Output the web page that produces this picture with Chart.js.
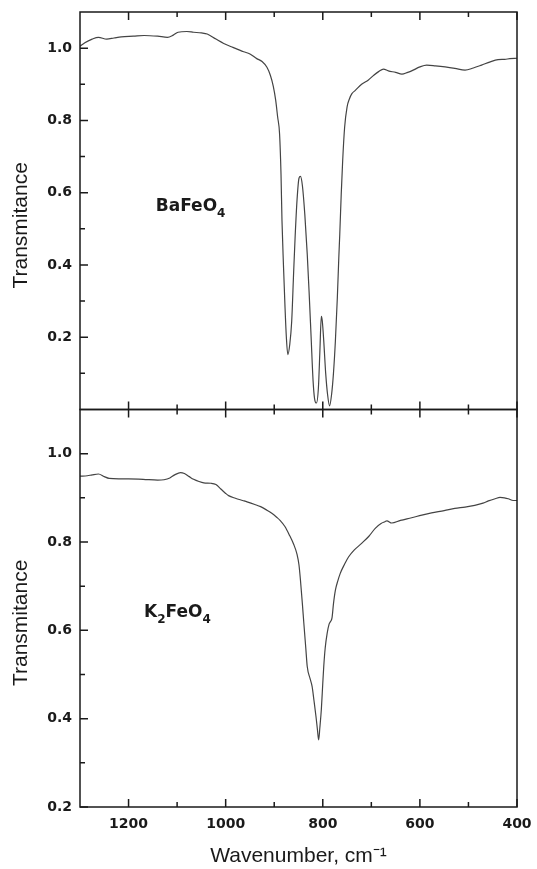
<!DOCTYPE html>
<html>
<head>
<meta charset="utf-8">
<title>FTIR BaFeO4 / K2FeO4</title>
<script src="https://cdn.jsdelivr.net/npm/chart.js@4.4.1/dist/chart.umd.min.js"></script>
<style>
    html, body { margin: 0; padding: 0; background: #fff; }
    canvas { display: block; }
</style>
</head>
<body>
<canvas id="irChart" width="537" height="869"></canvas>
<script>

// BaFeO4 spectrum (top panel)
const baWave = [1300, 1290, 1275, 1262, 1245, 1230, 1215, 1190, 1168, 1140, 1120, 1108, 1098, 1080, 1066, 1050, 1038, 1020, 1004, 985, 963, 950, 936, 925, 915, 908, 902, 897, 893, 889, 886, 884, 881, 878, 875, 872, 868, 864, 860, 857, 853, 849, 846, 842, 837, 832, 828, 824, 820, 817, 813, 809, 806, 803, 801, 798, 794, 790, 786, 782, 778, 774, 770, 767, 765, 762, 759, 755, 750, 745, 740, 733, 720, 706, 695, 685, 675, 665, 650, 637, 625, 617, 600, 586, 568, 548, 528, 507, 490, 473, 455, 439, 425, 415, 400];
const baT = [1.005, 1.015, 1.025, 1.030, 1.025, 1.028, 1.031, 1.033, 1.035, 1.033, 1.030, 1.036, 1.044, 1.046, 1.044, 1.042, 1.039, 1.025, 1.013, 1.002, 0.990, 0.984, 0.971, 0.963, 0.947, 0.925, 0.895, 0.856, 0.81, 0.763, 0.65, 0.522, 0.40, 0.291, 0.20, 0.152, 0.18, 0.244, 0.38, 0.476, 0.58, 0.640, 0.645, 0.62, 0.54, 0.430, 0.32, 0.20, 0.08, 0.031, 0.018, 0.06, 0.16, 0.258, 0.245, 0.19, 0.10, 0.04, 0.010, 0.04, 0.10, 0.19, 0.31, 0.42, 0.485, 0.596, 0.689, 0.781, 0.837, 0.860, 0.874, 0.883, 0.900, 0.912, 0.925, 0.935, 0.942, 0.937, 0.933, 0.928, 0.933, 0.937, 0.948, 0.953, 0.951, 0.948, 0.944, 0.939, 0.945, 0.953, 0.962, 0.968, 0.969, 0.971, 0.972];

// K2FeO4 spectrum (bottom panel)
const kWave = [1300, 1285, 1275, 1262, 1250, 1240, 1220, 1200, 1170, 1140, 1127, 1115, 1105, 1093, 1085, 1075, 1066, 1055, 1045, 1030, 1020, 1010, 1000, 994, 980, 965, 956, 940, 928, 915, 905, 895, 888, 878, 868, 860, 853, 849, 846, 842, 839, 835, 832, 826, 822, 818, 814, 811, 808.5, 806, 803, 800, 798, 795, 791, 787, 784, 781, 778, 774, 769, 764, 755, 747, 735, 720, 705, 692, 680, 672, 668, 658, 640, 617, 596, 576, 550, 528, 507, 487, 470, 459, 445, 435, 426, 418, 408, 400];
const kT = [0.949, 0.950, 0.952, 0.954, 0.948, 0.944, 0.943, 0.943, 0.942, 0.940, 0.941, 0.945, 0.952, 0.957, 0.955, 0.948, 0.942, 0.937, 0.934, 0.933, 0.930, 0.920, 0.910, 0.905, 0.899, 0.894, 0.891, 0.885, 0.880, 0.872, 0.865, 0.856, 0.849, 0.835, 0.814, 0.795, 0.772, 0.748, 0.714, 0.66, 0.616, 0.56, 0.518, 0.49, 0.473, 0.44, 0.405, 0.375, 0.352, 0.38, 0.42, 0.48, 0.518, 0.56, 0.593, 0.614, 0.620, 0.628, 0.66, 0.691, 0.712, 0.729, 0.750, 0.766, 0.782, 0.797, 0.813, 0.831, 0.842, 0.846, 0.848, 0.843, 0.849, 0.855, 0.861, 0.866, 0.871, 0.876, 0.879, 0.883, 0.888, 0.893, 0.898, 0.901, 0.900, 0.898, 0.894, 0.894];

// axis ticks
const xTicks = [1200, 1000, 800, 600, 400];
const xMinor = [1100, 900, 700, 500];
const yTicks = [0.2, 0.4, 0.6, 0.8, 1.0];
const yMinorTop = [0.1, 0.3, 0.5, 0.7, 0.9];
const yMinorBot = [0.3, 0.5, 0.7, 0.9];

// panel labels, [text, isSubscript]
const baLabel = [["BaFeO", false], ["4", true]];
const kLabel = [["K", false], ["2", true], ["FeO", false], ["4", true]];

const ink = "#1a1a1a";
const tickFont = { family: "'DejaVu Sans', sans-serif", size: 14, weight: "bold" };
const titleFont = { family: "'Liberation Sans', Arial, sans-serif", size: 21 };


function toPoints(xs, ys) {
    return xs.map((w, i) => ({ x: w, y: ys[i] }));
}

function yAxis(min, max) {
    return {
        type: "linear",
        position: "left",
        stack: "ir",
        stackWeight: 1,
        min: min,
        max: max,
        afterBuildTicks: s => { s.ticks = yTicks.map(v => ({ value: v })); },
        afterFit: s => {
            s.width = 80;
            s.paddingTop = 0;
            s.paddingBottom = 0;
        },
        grid: { display: false, drawTicks: false },
        border: { display: false },
        ticks: {
            font: tickFont,
            color: ink,
            padding: 8,
            callback: v => v.toFixed(1)
        },
        title: {
            display: true,
            text: "Transmitance     ",
            font: titleFont,
            color: ink,
            padding: { top: 9, bottom: 0 }
        }
    };
}


// frame, inward ticks and formula labels
const panelDecor = {
    id: "panelDecor",
    afterDatasetsDraw(chart) {
        const ctx = chart.ctx;
        const x = chart.scales.x;

        ctx.save();
        ctx.strokeStyle = ink;
        ctx.lineWidth = 1.5;

        [[chart.scales.yTop, yMinorTop], [chart.scales.yBot, yMinorBot]].forEach(([y, minor]) => {

            ctx.strokeRect(x.left, y.top, x.right - x.left, y.bottom - y.top);

            ctx.beginPath();
            yTicks.forEach(v => {
                const py = y.getPixelForValue(v);
                ctx.moveTo(x.left, py);
                ctx.lineTo(x.left + 8, py);
            });
            minor.forEach(v => {
                const py = y.getPixelForValue(v);
                ctx.moveTo(x.left, py);
                ctx.lineTo(x.left + 5, py);
            });
            xTicks.forEach(v => {
                const px = x.getPixelForValue(v);
                ctx.moveTo(px, y.top);
                ctx.lineTo(px, y.top + 8);
                ctx.moveTo(px, y.bottom);
                ctx.lineTo(px, y.bottom - 8);
            });
            xMinor.forEach(v => {
                const px = x.getPixelForValue(v);
                ctx.moveTo(px, y.top);
                ctx.lineTo(px, y.top + 5);
                ctx.moveTo(px, y.bottom);
                ctx.lineTo(px, y.bottom - 5);
            });
            ctx.stroke();
        });

        drawFormula(ctx, baLabel, x.getPixelForValue(1144), chart.scales.yTop.getPixelForValue(0.548));
        drawFormula(ctx, kLabel, x.getPixelForValue(1168), chart.scales.yBot.getPixelForValue(0.631));

        ctx.restore();
    }
};

function drawFormula(ctx, parts, px, py) {
    ctx.fillStyle = ink;
    ctx.textBaseline = "alphabetic";
    ctx.textAlign = "left";
    let cx = px;
    parts.forEach(([t, sub]) => {
        ctx.font = sub ? "bold 12px 'DejaVu Sans'" : "bold 17px 'DejaVu Sans'";
        ctx.fillText(t, cx, sub ? py + 6 : py);
        cx += ctx.measureText(t).width;
    });
}


function createIrChart() {

    new Chart(document.getElementById("irChart"), {

        type: "line",

        data: {
            datasets: [
                {
                    label: "BaFeO4",
                    data: toPoints(baWave, baT),
                    xAxisID: "x",
                    yAxisID: "yTop",
                    borderColor: "#444",
                    borderWidth: 1.2,
                    pointRadius: 0,
                    cubicInterpolationMode: "monotone"
                },
                {
                    label: "K2FeO4",
                    data: toPoints(kWave, kT),
                    xAxisID: "x",
                    yAxisID: "yBot",
                    borderColor: "#444",
                    borderWidth: 1.2,
                    pointRadius: 0,
                    cubicInterpolationMode: "monotone"
                }
            ]
        },

        options: {
            responsive: false,
            animation: false,
            layout: { padding: { top: 12, right: 20, left: 0, bottom: 0 } },
            plugins: {
                legend: { display: false },
                tooltip: { enabled: false }
            },
            scales: {
                x: {
                    type: "linear",
                    position: "bottom",
                    reverse: true,
                    min: 400,
                    max: 1300,
                    afterBuildTicks: s => { s.ticks = xTicks.map(v => ({ value: v })); },
                    afterFit: s => {
                        s.height = 62;
                        s.paddingLeft = 0;
                        s.paddingRight = 0;
                    },
                    grid: { display: false, drawTicks: false },
                    border: { display: false },
                    ticks: {
                        font: tickFont,
                        color: ink,
                        padding: 9,
                        maxRotation: 0,
                        autoSkip: false,
                        callback: v => String(v)
                    },
                    title: {
                        display: true,
                        text: "Wavenumber, cm\u207B\u00B9",
                        font: titleFont,
                        color: ink,
                        padding: { top: 0, bottom: 0 }
                    }
                },
                yBot: yAxis(0.2, 1.1),
                yTop: yAxis(0, 1.1)
            }
        },

        plugins: [panelDecor]

    });

}


createIrChart();
</script>
</body>
</html>
